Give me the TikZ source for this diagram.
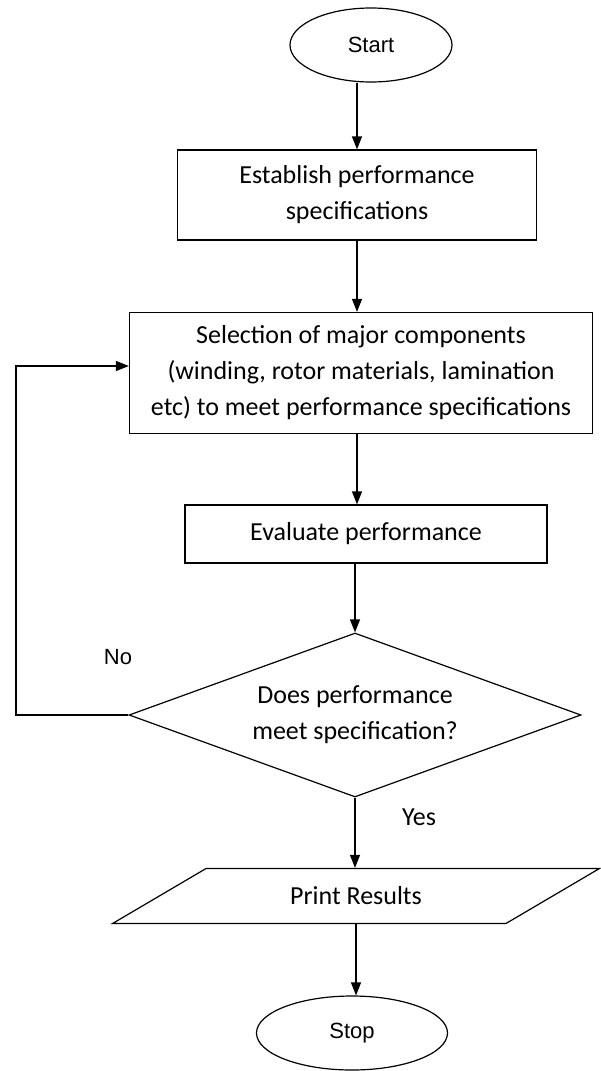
\documentclass[tikz,border=0pt]{standalone}
\usepackage{fontspec}
\setmainfont{Carlito}
\newfontfamily\arialfont{Liberation Sans}
\usetikzlibrary{shapes.geometric,arrows.meta}

\begin{document}
\begin{tikzpicture}[x=1pt, y=-1pt, line width=1.2pt,
        >={Triangle[length=13pt,width=10pt]},
        terminal/.style={draw, ellipse, minimum width=#1, minimum height=74pt,
            font=\arialfont\fontsize{22}{26}\selectfont},
        process/.style={draw, rectangle, align=center,
            font=\fontsize{26}{36}\selectfont}]
        \useasboundingbox (0,0) rectangle (601,1071);

        % Define the start and stop ellipses
        \node[terminal=162pt] (start) at (371,45) {Start};
        \node[terminal=191pt] (stop) at (352,1033) {Stop};

        % Define the process boxes
        \node[process, minimum width=359pt, minimum height=90pt] (establish) at (357,195)
            {Establish performance\\specifications};
        \node[process, minimum width=463pt, minimum height=121pt] (select) at (361,373)
            {Selection of major components\\(winding, rotor materials, lamination\\etc) to meet performance specifications};
        \node[process, minimum width=362pt, minimum height=58pt] (evaluate) at (366,534)
            {Evaluate performance};

        % Decision and output
        \node[draw, diamond, aspect=2.75, inner sep=0pt, minimum width=452pt, minimum height=164pt,
            align=center, font=\fontsize{26}{36}\selectfont] (decide) at (355,715)
            {Does performance\\meet specification?};
        \node[draw, trapezium, trapezium left angle=30, trapezium right angle=150,
            trapezium stretches=true, minimum width=488pt, minimum height=55pt,
            font=\fontsize{26}{30}\selectfont] (print) at (356,896) {Print Results};

        % Draw arrows
        \draw[->] (start.south -| establish.north) -- (establish.north);
        \draw[->] (establish.south) -- (establish.south |- select.north);
        \draw[->] (select.south -| establish.south) -- (evaluate.north -| establish.south);
        \draw[->] (evaluate.south -| decide.north) -- (decide.north);
        \draw[->] (decide.south) -- (decide.south |- print.north);
        \draw[->] (print.south) -- (print.south |- stop.north);

        % Loop back when the check fails
        \coordinate (back) at (16,366);
        \draw[->] (decide.west) -| (back) -- (back -| select.west);

        % Labels
        \node[font=\arialfont\fontsize{22}{26}\selectfont] (no) at (118,657) {No};
        \node[font=\fontsize{26}{30}\selectfont] (yes) at (419,817) {Yes};
    \end{tikzpicture}
\end{document}
